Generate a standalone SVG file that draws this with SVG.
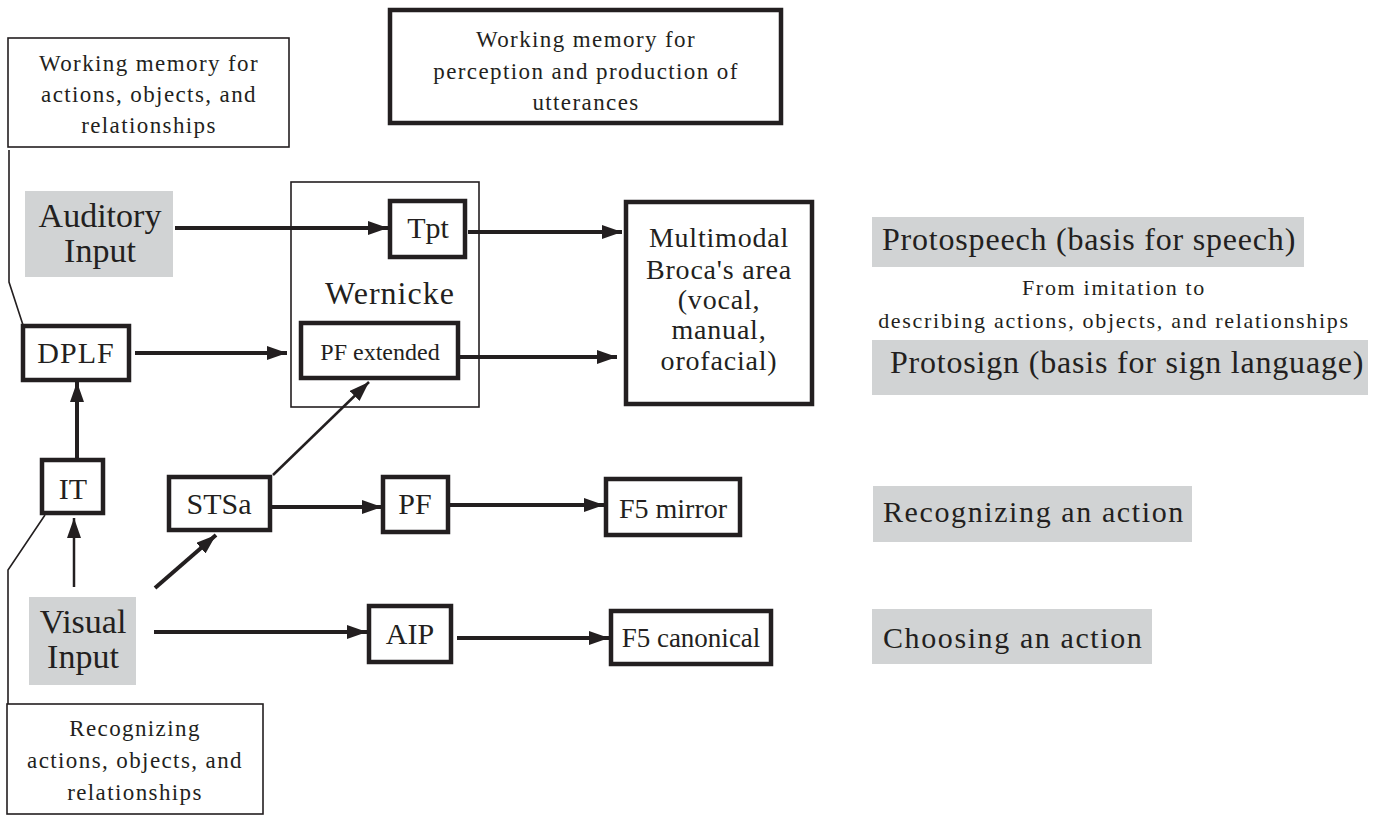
<svg xmlns="http://www.w3.org/2000/svg" width="1373" height="816" viewBox="0 0 1373 816">
<style>
  text { font-family: "Liberation Serif", "DejaVu Serif", "Times New Roman", serif; fill: #231f20; }
  .thin { fill: #ffffff; stroke: #231f20; stroke-width: 1.6; }
  .thick { fill: #ffffff; stroke: #231f20; stroke-width: 4.5; }
  .gray { fill: #d1d3d4; stroke: none; }
  .mid { text-anchor: middle; }
  .note { font-size: 23px; letter-spacing: 1.4px; }
  .big { font-size: 34px; }
  .lbl { font-size: 30px; }
  .side { font-size: 32px; letter-spacing: 0.8px; }
  .side2 { font-size: 30px; letter-spacing: 1.6px; }
  .conn { stroke: #231f20; fill: none; stroke-width: 4; }
  .connthin { stroke: #231f20; fill: none; stroke-width: 2.5; }
  .leader { stroke: #231f20; fill: none; stroke-width: 1.6; }
</style>
<defs>
  <marker id="arr" markerUnits="userSpaceOnUse" markerWidth="22" markerHeight="16" refX="20" refY="7" orient="auto">
    <path d="M0,0 L20,7 L0,14 z" fill="#231f20"/>
  </marker>
</defs>
<rect width="1373" height="816" fill="#ffffff"/>

<g id="connectors">
  <line class="conn" x1="175" y1="228" x2="388" y2="228" marker-end="url(#arr)"/>
  <line class="conn" x1="468" y1="232" x2="622" y2="232" marker-end="url(#arr)"/>
  <line class="conn" x1="135" y1="353" x2="287" y2="353" marker-end="url(#arr)"/>
  <line class="conn" x1="458" y1="357" x2="617" y2="357" marker-end="url(#arr)"/>
  <line class="conn" x1="77" y1="460" x2="77" y2="382" marker-end="url(#arr)"/>
  <line class="connthin" x1="74" y1="587" x2="74" y2="518" marker-end="url(#arr)"/>
  <line class="conn" x1="155" y1="588" x2="216" y2="535" marker-end="url(#arr)"/>
  <line class="connthin" x1="273" y1="475" x2="369" y2="382" marker-end="url(#arr)"/>
  <line class="conn" x1="270" y1="507" x2="382" y2="507" marker-end="url(#arr)"/>
  <line class="conn" x1="448" y1="505" x2="604" y2="505" marker-end="url(#arr)"/>
  <line class="conn" x1="154" y1="632" x2="367" y2="632" marker-end="url(#arr)"/>
  <line class="conn" x1="457" y1="638" x2="609" y2="638" marker-end="url(#arr)"/>
  <polyline class="leader" points="9,150 9,282 23,325"/>
  <polyline class="leader" points="45,515 8,570 8,705"/>
</g>

<g id="wm-actions">
  <rect class="thin" x="8" y="38" width="281" height="109"/>
  <text class="note mid" x="149" y="71">Working memory for</text>
  <text class="note mid" x="149" y="102">actions, objects, and</text>
  <text class="note mid" x="149" y="133">relationships</text>
</g>

<g id="wm-utterances">
  <rect class="thick" x="390" y="10" width="391" height="113"/>
  <text class="note mid" x="586" y="47">Working memory for</text>
  <text class="note mid" x="586" y="79">perception and production of</text>
  <text class="note mid" x="586" y="110">utterances</text>
</g>

<g id="auditory-input">
  <rect class="gray" x="25" y="191" width="148" height="86"/>
  <text class="big mid" x="100" y="227">Auditory</text>
  <text class="big mid" x="100" y="262">Input</text>
</g>

<g id="wernicke">
  <rect fill="none" stroke="#231f20" stroke-width="1.6" x="291" y="182" width="188" height="225"/>
  <text class="mid" x="390" y="304" font-size="32" letter-spacing="1">Wernicke</text>
</g>

<g id="tpt">
  <rect class="thick" x="390" y="201" width="75" height="56"/>
  <text class="lbl mid" x="428" y="238">Tpt</text>
</g>

<g id="pf-extended">
  <rect class="thick" x="301" y="323" width="157" height="55"/>
  <text class="mid" x="380" y="360" font-size="24">PF extended</text>
</g>

<g id="dplf">
  <rect class="thick" x="23" y="326" width="106" height="54"/>
  <text class="lbl mid" x="76" y="363" letter-spacing="1">DPLF</text>
</g>

<g id="broca">
  <rect class="thick" x="626" y="202" width="186" height="202"/>
  <text class="mid" x="719" y="247" font-size="28" letter-spacing="0.8">Multimodal</text>
  <text class="mid" x="719" y="279" font-size="28" letter-spacing="0.8">Broca's area</text>
  <text class="mid" x="719" y="309" font-size="28" letter-spacing="0.8">(vocal,</text>
  <text class="mid" x="719" y="339" font-size="28" letter-spacing="0.8">manual,</text>
  <text class="mid" x="719" y="370" font-size="28" letter-spacing="0.8">orofacial)</text>
</g>

<g id="it">
  <rect class="thick" x="42" y="460" width="61" height="53"/>
  <text class="lbl mid" x="73" y="499">IT</text>
</g>

<g id="stsa">
  <rect class="thick" x="169" y="477" width="101" height="53"/>
  <text class="lbl mid" x="219" y="514">STSa</text>
</g>

<g id="pf">
  <rect class="thick" x="383" y="477" width="65" height="55"/>
  <text class="lbl mid" x="415" y="514">PF</text>
</g>

<g id="aip">
  <rect class="thick" x="369" y="606" width="82" height="56"/>
  <text class="lbl mid" x="410" y="644">AIP</text>
</g>

<g id="f5-mirror">
  <rect class="thick" x="606" y="479" width="134" height="56"/>
  <text class="mid" x="673" y="518" font-size="28">F5 mirror</text>
</g>

<g id="f5-canonical">
  <rect class="thick" x="611" y="611" width="160" height="53"/>
  <text class="mid" x="691" y="647" font-size="27">F5 canonical</text>
</g>

<g id="visual-input">
  <rect class="gray" x="29" y="597" width="107" height="88"/>
  <text class="big mid" x="83" y="633">Visual</text>
  <text class="big mid" x="83" y="668">Input</text>
</g>

<g id="wm-recognizing">
  <rect class="thin" x="7" y="704" width="256" height="110"/>
  <text class="note mid" x="135" y="736">Recognizing</text>
  <text class="note mid" x="135" y="768">actions, objects, and</text>
  <text class="note mid" x="135" y="800">relationships</text>
</g>

<g id="protospeech">
  <rect class="gray" x="872" y="217" width="432" height="50"/>
  <text class="side" x="882" y="250">Protospeech (basis for speech)</text>
</g>

<g id="imitation-label">
  <text class="mid" x="1114" y="295" font-size="22" letter-spacing="1.7">From imitation to</text>
  <text class="mid" x="1114" y="328" font-size="22" letter-spacing="1.7">describing actions, objects, and relationships</text>
</g>

<g id="protosign">
  <rect class="gray" x="872" y="340" width="496" height="55"/>
  <text class="side" x="890" y="373">Protosign (basis for sign language)</text>
</g>

<g id="recognizing-action">
  <rect class="gray" x="873" y="486" width="319" height="56"/>
  <text class="side2" x="883" y="522">Recognizing an action</text>
</g>

<g id="choosing-action">
  <rect class="gray" x="872" y="609" width="280" height="55"/>
  <text class="side2" x="883" y="648">Choosing an action</text>
</g>
</svg>
